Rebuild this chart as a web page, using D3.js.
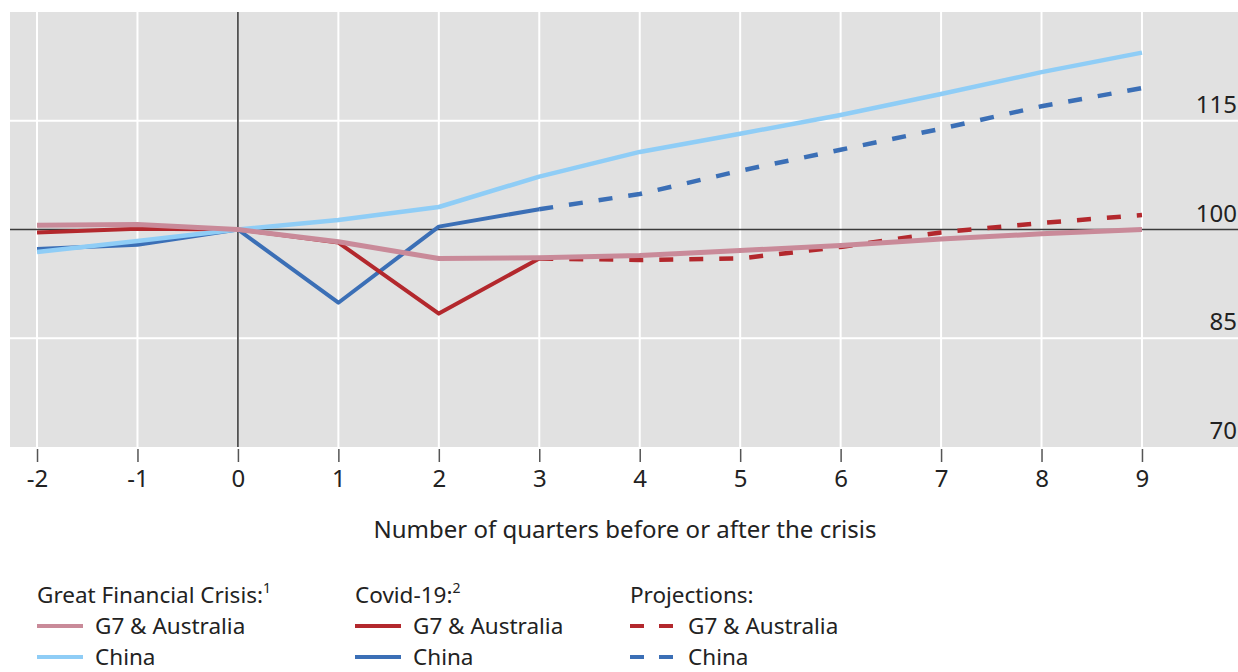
<!DOCTYPE html>
<html><head><meta charset="utf-8">
<script src="https://cdn.jsdelivr.net/npm/d3@7"></script>
<style>
html,body{margin:0;padding:0;background:#fff;}
svg{display:block;font-family:"Noto Sans","Open Sans",sans-serif;}
</style></head>
<body>
<svg id="chart" width="1238" height="672"></svg>
<script>
// ---- data ----
const quarters = [-2,-1,0,1,2,3,4,5,6,7,8,9];
const gfcG7 = [100.6,100.7,100,98.3,96.0,96.1,96.4,97.1,97.8,98.7,99.4,100.0];
const gfcChina = [96.9,98.4,100,101.3,103.1,107.3,110.7,113.2,115.8,118.7,121.7,124.4];
const covidQuarters = [-2,-1,0,1,2,3];
const covidG7 = [99.6,100.1,100,98.2,88.4,96.0];
const covidChina = [97.3,97.9,100,89.9,100.4,102.8];
const projQuarters = [3,4,5,6,7,8,9];
const projG7 = [96.0,95.8,96.0,97.6,99.6,100.9,102.0];
const projChina = [102.8,104.9,108.1,111.0,113.9,117.0,119.5];
const xTicks = [-2,-1,0,1,2,3,4,5,6,7,8,9];
const yTicks = [70,85,100,115];
const xTitle = "Number of quarters before or after the crisis";

// ---- layout ----
const FS = 24, LFS = 22.5;
const svg = d3.select("#chart");
const plotL = 10, plotR = 1238, plotT = 12, plotB = 447;
const x = d3.scaleLinear().domain([-2.269, 9.956]).range([plotL, plotR]);
const y = d3.scaleLinear().domain([70, 130]).range([plotB, plotT]);

const colPink = "#c98a99", colLightBlue = "#8fcdf6", colRed = "#b3282d", colBlue = "#3b6fb6";

svg.append("rect").attr("x", plotL).attr("y", plotT).attr("width", plotR-plotL).attr("height", plotB-plotT).attr("fill", "#e1e1e1");

// grid
svg.append("g").selectAll("line").data(xTicks).join("line")
  .attr("x1", d=>x(d)).attr("x2", d=>x(d)).attr("y1", plotT).attr("y2", plotB)
  .attr("stroke", "#fff").attr("stroke-width", 2);
svg.append("g").selectAll("line").data(yTicks.filter(v=>v!==100 && v!==70)).join("line")
  .attr("x1", plotL).attr("x2", plotR).attr("y1", d=>y(d)).attr("y2", d=>y(d))
  .attr("stroke", "#fff").attr("stroke-width", 2);

// reference lines
svg.append("line").attr("x1", plotL).attr("x2", plotR).attr("y1", y(100)).attr("y2", y(100)).attr("stroke", "#3a3a3a").attr("stroke-width", 1.6);
svg.append("line").attr("x1", x(0)).attr("x2", x(0)).attr("y1", plotT).attr("y2", plotB).attr("stroke", "#3a3a3a").attr("stroke-width", 1.6);

// y labels
svg.append("g").selectAll("text").data(yTicks).join("text")
  .attr("x", 1237).attr("y", d=>y(d)-8).attr("text-anchor", "end")
  .attr("font-size", FS).attr("fill", "#222").text(d=>d);

// x axis
const xAxis = d3.axisBottom(x).tickValues(xTicks).tickSize(13).tickPadding(8).tickFormat(d=>d);
const gx = svg.append("g").attr("transform", `translate(0,${plotB+2})`).call(xAxis);
gx.select(".domain").remove();
gx.selectAll(".tick line").attr("stroke", "#555").attr("stroke-width", 1.5);
gx.selectAll(".tick text").attr("font-size", FS).attr("fill", "#222").attr("font-family", "Noto Sans, sans-serif");

svg.append("text").attr("x", 625).attr("y", 538).attr("text-anchor", "middle")
  .attr("font-size", FS).attr("fill", "#222").text(xTitle);

// lines
const line = d3.line().x(d=>x(d[0])).y(d=>y(d[1]));
function draw(qs, vs, color, w, dash){
  svg.append("path").datum(qs.map((q,i)=>[q, vs[i]]))
    .attr("d", line).attr("fill", "none").attr("stroke", color)
    .attr("stroke-width", w).attr("stroke-linejoin", "round")
    .attr("stroke-dasharray", dash || null);
}
draw(projQuarters, projChina, colBlue, 4.5, "14,16");
draw(projQuarters, projG7, colRed, 4.5, "14,16");
draw(covidQuarters, covidChina, colBlue, 4);
draw(covidQuarters, covidG7, colRed, 4);
draw(quarters, gfcChina, colLightBlue, 4.5);
draw(quarters, gfcG7, colPink, 5);

// legend
const legendCols = [
  {x: 37, title: "Great Financial Crisis:", sup: "1", items: [{label: "G7 & Australia", color: colPink}, {label: "China", color: colLightBlue}], dash: null},
  {x: 355, title: "Covid-19:", sup: "2", items: [{label: "G7 & Australia", color: colRed}, {label: "China", color: colBlue}], dash: null},
  {x: 630, title: "Projections:", sup: "", items: [{label: "G7 & Australia", color: colRed}, {label: "China", color: colBlue}], dash: "14,15"}
];
const rowY = [603, 634, 665];
legendCols.forEach(c => {
  const t = svg.append("text").attr("x", c.x).attr("y", rowY[0]).attr("font-size", LFS).attr("fill", "#222").text(c.title);
  if (c.sup) t.append("tspan").attr("font-size", 14).attr("dy", -10).text(c.sup);
  c.items.forEach((it, i) => {
    svg.append("line").attr("x1", c.x).attr("x2", c.x+46).attr("y1", rowY[i+1]-8).attr("y2", rowY[i+1]-8)
      .attr("stroke", it.color).attr("stroke-width", 4).attr("stroke-dasharray", c.dash);
    svg.append("text").attr("x", c.x+58).attr("y", rowY[i+1]).attr("font-size", LFS).attr("fill", "#222").text(it.label);
  });
});
</script>
</body></html>
